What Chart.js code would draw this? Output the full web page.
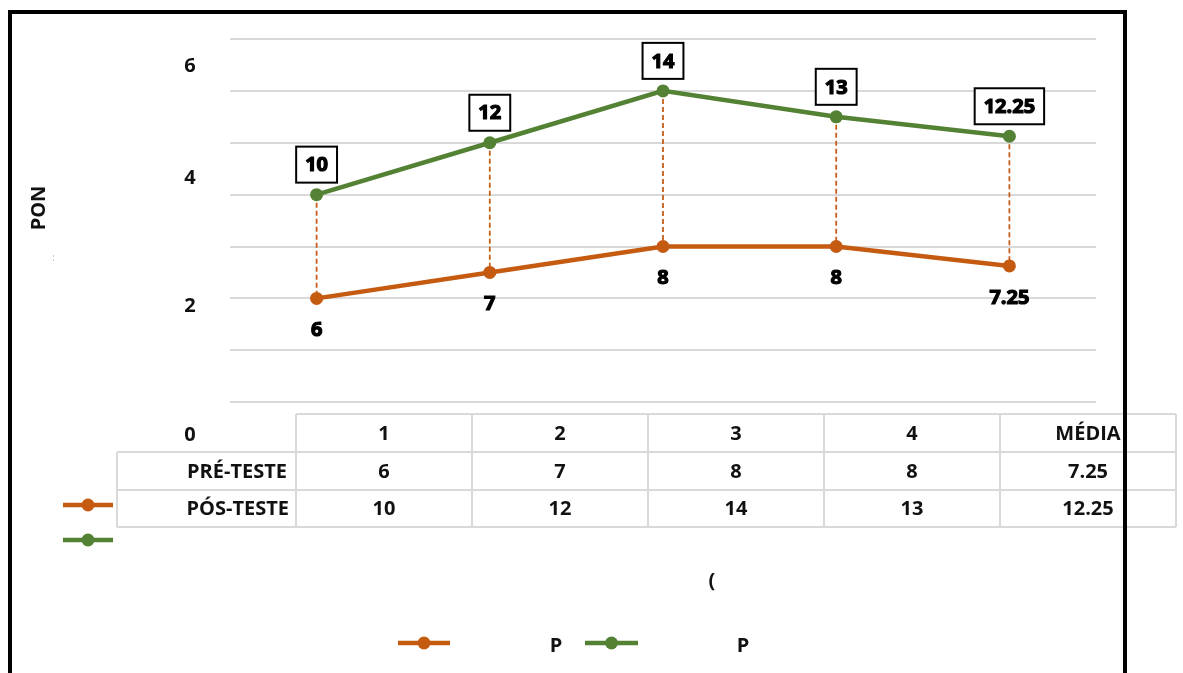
<!DOCTYPE html>
<html>
<head>
<meta charset="utf-8">
<script src="https://cdn.jsdelivr.net/npm/chart.js@4"></script>
<style>
html, body { margin:0; padding:0; background:#fff; overflow:hidden; }
#wrap { width:1183px; height:673px; }
</style>
</head>
<body>
<div id="wrap"><canvas id="c" width="1183" height="673"></canvas></div>
<script>
const categories = ['1', '2', '3', '4', 'MÉDIA'];
const preTeste = [6, 7, 8, 8, 7.25];
const posTeste = [10, 12, 14, 13, 12.25];
const seriesNames = ['PRÉ-TESTE', 'PÓS-TESTE'];
const yTickLabels = ['6', '4', '2', '0'];
const axisTitle = 'PON';
const xTitle = '(';
const legendLabels = ['P', 'P'];

const ORANGE = '#C55A11', GREEN = '#548235', GRID = '#d9d9d9', INK = '#111';
const FONT = '"Open Sans", "Noto Sans", sans-serif';

// dashed orange drop lines between the two series
const dropLines = {
  id: 'dropLines',
  beforeDatasetsDraw(chart){
    const lo = chart.getDatasetMeta(0).data, hi = chart.getDatasetMeta(1).data;
    const ctx = chart.ctx;
    ctx.save();
    ctx.strokeStyle = ORANGE; ctx.lineWidth = 1.75; ctx.setLineDash([5, 3]);
    lo.forEach((p, i) => {
      ctx.beginPath(); ctx.moveTo(p.x, hi[i].y); ctx.lineTo(p.x, p.y); ctx.stroke();
    });
    ctx.restore();
  }
};

// value labels: plain under pre-test, boxed above post-test
const valueLabels = {
  id: 'valueLabels',
  afterDatasetsDraw(chart){
    const ctx = chart.ctx;
    ctx.save();
    ctx.font = 'bold 20px ' + FONT; ctx.textAlign = 'center'; ctx.textBaseline = 'middle';
    ctx.strokeStyle = '#000'; ctx.fillStyle = '#000';
    chart.getDatasetMeta(0).data.forEach((p, i) => {
      const t = String(preTeste[i]);
      ctx.lineWidth = 1.2;
      ctx.fillText(t, p.x, p.y + 32); ctx.strokeText(t, p.x, p.y + 32);
    });
    chart.getDatasetMeta(1).data.forEach((p, i) => {
      const t = String(posTeste[i]);
      const w = ctx.measureText(t).width + 18, cy = p.y - 30;
      ctx.fillStyle = '#fff'; ctx.fillRect(p.x - w / 2, cy - 18, w, 36);
      ctx.lineWidth = 2; ctx.strokeRect(p.x - w / 2, cy - 18, w, 36);
      ctx.fillStyle = '#000'; ctx.lineWidth = 1.2;
      ctx.fillText(t, p.x, cy + 1); ctx.strokeText(t, p.x, cy + 1);
    });
    ctx.restore();
  }
};

function legendKey(ctx, x0, x1, y, color){
  ctx.save();
  ctx.strokeStyle = color; ctx.lineWidth = 4.5; ctx.setLineDash([]);
  ctx.beginPath(); ctx.moveTo(x0, y); ctx.lineTo(x1, y); ctx.stroke();
  ctx.fillStyle = color;
  ctx.beginPath(); ctx.arc((x0 + x1) / 2, y, 6.5, 0, Math.PI * 2); ctx.fill();
  ctx.restore();
}

// data table, axis texts, legend and outer frame
const decor = {
  id: 'decor',
  afterDraw(chart){
    const ctx = chart.ctx;
    const left = 117, x0 = 296, colW = 176, rows = [414, 452, 490, 527];
    const x1 = x0 + colW * categories.length;
    ctx.save();
    ctx.fillStyle = '#fff';
    ctx.fillRect(x0, rows[0], x1 - x0, rows[1] - rows[0]);
    ctx.fillRect(left, rows[1], x1 - left, rows[3] - rows[1]);
    ctx.strokeStyle = GRID; ctx.lineWidth = 2;
    ctx.beginPath();
    ctx.moveTo(x0, rows[0]); ctx.lineTo(x1, rows[0]);
    for (let r = 1; r < rows.length; r++) { ctx.moveTo(left, rows[r]); ctx.lineTo(x1, rows[r]); }
    ctx.moveTo(left, rows[1]); ctx.lineTo(left, rows[3]);
    for (let c = 0; c <= categories.length; c++) {
      ctx.moveTo(x0 + c * colW, rows[0]); ctx.lineTo(x0 + c * colW, rows[3]);
    }
    ctx.stroke();

    ctx.fillStyle = INK; ctx.font = 'bold 20px ' + FONT; ctx.textBaseline = 'middle';
    const mid = r => (rows[r] + rows[r + 1]) / 2 + 1;
    ctx.textAlign = 'center';
    categories.forEach((c, i) => {
      const cx = x0 + colW * (i + 0.5);
      ctx.fillText(c, cx, mid(0));
      ctx.fillText(String(preTeste[i]), cx, mid(1));
      ctx.fillText(String(posTeste[i]), cx, mid(2));
    });
    ctx.textAlign = 'right';
    ctx.fillText(seriesNames[0], 287, mid(1));
    ctx.fillText(seriesNames[1], 289, mid(2));
    legendKey(ctx, 63, 113, 505, ORANGE);
    legendKey(ctx, 63, 113, 540, GREEN);

    // y tick texts
    ctx.textAlign = 'center';
    [66, 178, 306, 435].forEach((y, i) => ctx.fillText(yTickLabels[i], 190, y));

    // axis titles
    ctx.save();
    ctx.translate(39, 208); ctx.rotate(-Math.PI / 2);
    ctx.fillText(axisTitle, 0, 0);
    ctx.restore();
    ctx.fillText(xTitle, 712, 581);
    ctx.save();
    ctx.strokeStyle = '#c8c8c8'; ctx.lineWidth = 1; ctx.setLineDash([2, 2]);
    ctx.beginPath(); ctx.moveTo(53.5, 255); ctx.lineTo(53.5, 263); ctx.stroke();
    ctx.restore();

    // bottom legend
    legendKey(ctx, 398, 450, 643, ORANGE);
    legendKey(ctx, 585, 638, 643, GREEN);
    ctx.fillText(legendLabels[0], 556, 646);
    ctx.fillText(legendLabels[1], 743, 646);

    // outer frame
    ctx.strokeStyle = '#000'; ctx.lineWidth = 4; ctx.setLineDash([]);
    ctx.strokeRect(10, 12, 1115, 700);
    ctx.restore();
  }
};

new Chart(document.getElementById('c'), {
  type: 'line',
  data: {
    labels: categories,
    datasets: [
      { label: seriesNames[0], data: preTeste, borderColor: ORANGE, backgroundColor: ORANGE,
        borderWidth: 4.5, pointRadius: 6.5, pointBorderWidth: 0, tension: 0 },
      { label: seriesNames[1], data: posTeste, borderColor: GREEN, backgroundColor: GREEN,
        borderWidth: 4.5, pointRadius: 6.5, pointBorderWidth: 0, tension: 0 }
    ]
  },
  options: {
    responsive: false, animation: false, devicePixelRatio: 1,
    layout: { padding: { left: 230, right: 87, top: 39, bottom: 219 } },
    scales: {
      x: { type: 'category', offset: true, display: false },
      y: { min: 0, max: 16, ticks: { stepSize: 2, display: false },
           grid: { color: GRID, lineWidth: 2, drawTicks: false }, border: { display: false } }
    },
    plugins: { legend: { display: false }, tooltip: { enabled: false } }
  },
  plugins: [dropLines, valueLabels, decor]
});
</script>
</body>
</html>
